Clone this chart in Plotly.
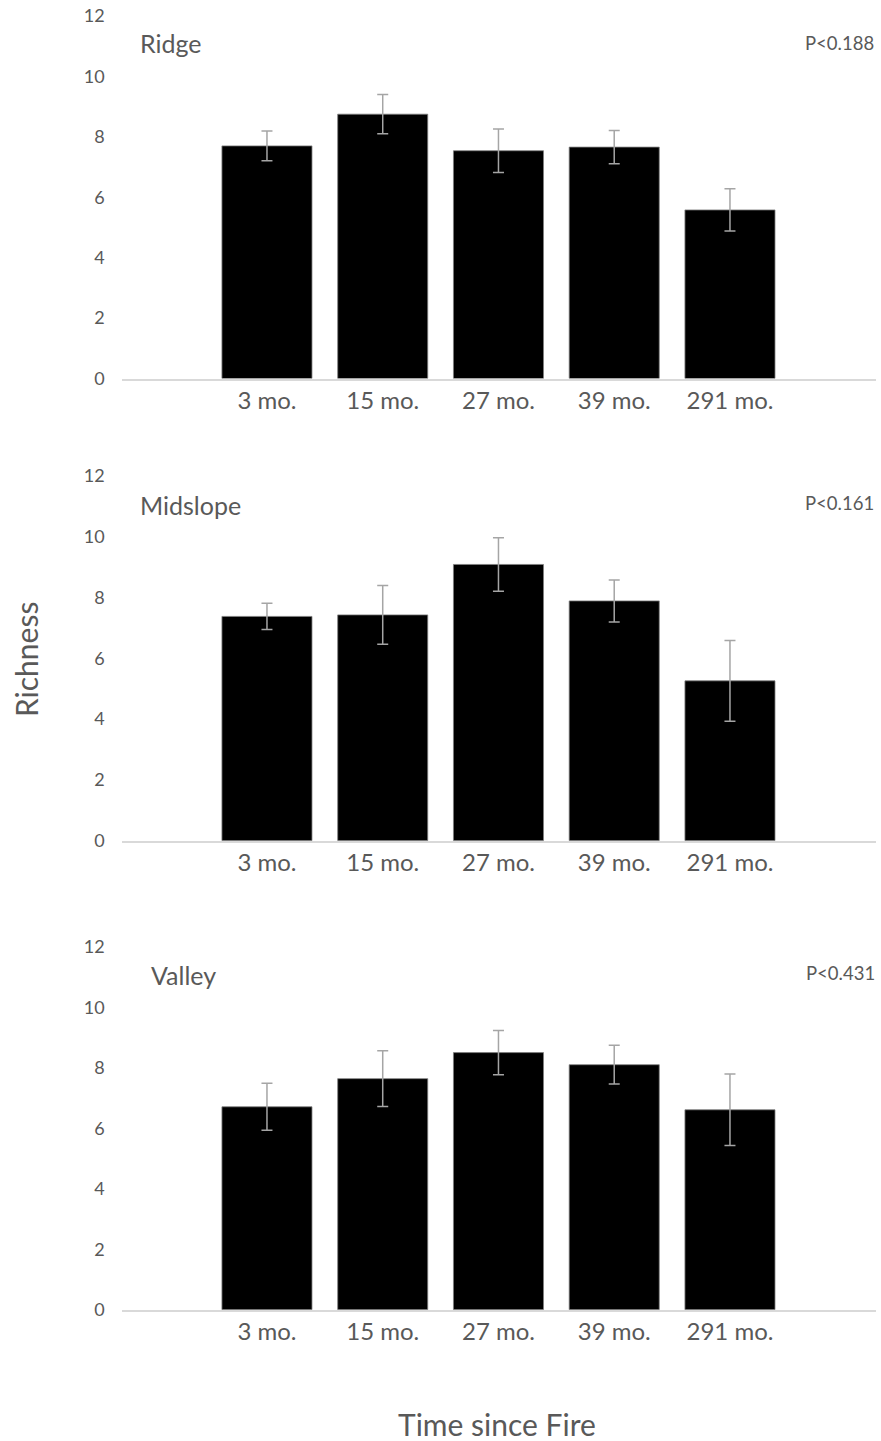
import plotly.graph_objects as go

# Species richness by time since fire, three topographic positions
months = ["3 mo.", "15 mo.", "27 mo.", "39 mo.", "291 mo."]

ridge_mean = [7.70, 8.75, 7.54, 7.66, 5.58]
ridge_se = [0.49, 0.65, 0.72, 0.55, 0.70]

midslope_mean = [7.38, 7.43, 9.09, 7.89, 5.26]
midslope_se = [0.43, 0.97, 0.88, 0.69, 1.33]

valley_mean = [6.71, 7.64, 8.50, 8.10, 6.61]
valley_se = [0.78, 0.92, 0.73, 0.64, 1.18]

panel_names = ["Ridge", "Midslope", "Valley"]
p_labels = ["P<0.188", "P<0.161", "P<0.431"]
y_ticks = [0, 2, 4, 6, 8, 10, 12]

W, H = 881, 1441
FONT = "Lato, 'Open Sans', sans-serif"
GREY_TEXT = "#595959"


def py(y_px):
    """Pixel row (from top) to paper fraction."""
    return 1 - y_px / H


def px(x_px):
    return x_px / W


# plot rectangles (pixels): x0, x1, y_top(=12), y_bottom(=0)
x0, x1 = 121.7, 875.7
panels = [(16.0, 378.5), (476.0, 840.7), (946.7, 1309.8)]
title_pos = [(138, 43), (138, 505), (149, 975)]
p_pos = [(876, 43), (876, 503), (877, 973)]

series = [(ridge_mean, ridge_se), (midslope_mean, midslope_se), (valley_mean, valley_se)]

fig = go.Figure()
layout_axes = {}
annotations = []

for i, ((means, ses), (ytop, ybot)) in enumerate(zip(series, panels)):
    k = "" if i == 0 else str(i + 1)
    fig.add_trace(go.Bar(
        x=months, y=means,
        xaxis="x" + k, yaxis="y" + k,
        marker=dict(color="#000000", line=dict(color="#7f7f7f", width=0.8)),
        error_y=dict(type="data", array=ses, visible=True,
                     color="#a5a5a5", thickness=1.5, width=5.5),
        showlegend=False, hoverinfo="x+y",
    ))
    layout_axes["xaxis" + k] = dict(
        domain=[px(x0), px(x1)], anchor="y" + k,
        type="category", range=[-1.255, 5.259],
        showline=True, linecolor="#d9d9d9", linewidth=1.5,
        showgrid=False, zeroline=False, ticks="",
        ticklabelstandoff=0,
        tickfont=dict(family=FONT, size=24, color=GREY_TEXT),
        automargin=False, fixedrange=True,
    )
    layout_axes["yaxis" + k] = dict(
        domain=[py(ybot), py(ytop)], anchor="x" + k,
        range=[0, 12], tickvals=y_ticks,
        showline=False, showgrid=False, zeroline=False, ticks="",
        ticklabelstandoff=16,
        tickfont=dict(family=FONT, size=18, color=GREY_TEXT),
        automargin=False, fixedrange=True,
    )
    tx, ty = title_pos[i]
    annotations.append(dict(
        text=panel_names[i], x=px(tx), y=py(ty), xref="paper", yref="paper",
        xanchor="left", yanchor="middle", showarrow=False,
        font=dict(family=FONT, size=25, color=GREY_TEXT),
    ))
    qx, qy = p_pos[i]
    annotations.append(dict(
        text=p_labels[i], x=px(qx), y=py(qy), xref="paper", yref="paper",
        xanchor="right", yanchor="middle", showarrow=False,
        font=dict(family=FONT, size=18.5, color=GREY_TEXT),
    ))

annotations.append(dict(
    text="Richness", x=px(26), y=py(660), xref="paper", yref="paper",
    xanchor="center", yanchor="middle", textangle=-90, showarrow=False,
    font=dict(family=FONT, size=30, color=GREY_TEXT),
))
annotations.append(dict(
    text="Time since Fire", x=px(496.5), y=py(1424), xref="paper", yref="paper",
    xanchor="center", yanchor="middle", showarrow=False,
    font=dict(family=FONT, size=30, color=GREY_TEXT),
))

fig.update_layout(
    width=W, height=H,
    margin=dict(l=0, r=0, t=0, b=0, autoexpand=False),
    paper_bgcolor="white", plot_bgcolor="white",
    bargap=0.222,
    annotations=annotations,
    **layout_axes,
)

fig.write_html("out.html")
